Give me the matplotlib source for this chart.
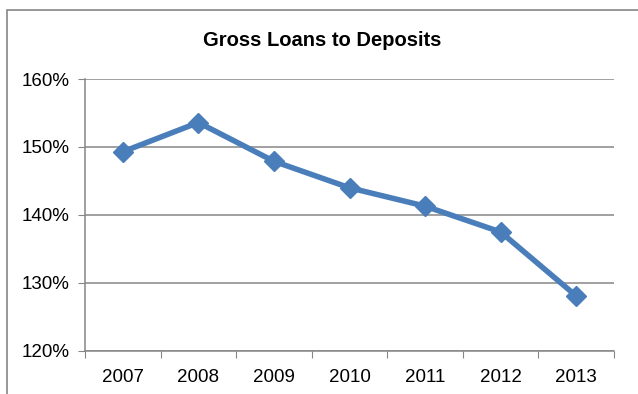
import matplotlib
matplotlib.use("Agg")
import matplotlib.pyplot as plt
from matplotlib.patches import Rectangle
import numpy as np

years = ["2007", "2008", "2009", "2010", "2011", "2012", "2013"]
ratio = [149.3, 153.6, 147.9, 144.0, 141.3, 137.5, 128.1]
y_ticks = [120, 130, 140, 150, 160]

plt.rcParams['font.family'] = ['Liberation Sans', 'DejaVu Sans']
grey = '#868686'
blue = '#4A7EBB'

fig = plt.figure(figsize=(6.38, 3.94), dpi=100)
ax = fig.add_axes([85 / 638, 1 - 351 / 394, (614 - 85) / 638, (351 - 79) / 394])

# chart border (runs off the right and bottom edges)
fig.patches.append(Rectangle((7 / 638, -0.1), 1.2, 1 - 10 / 394 + 0.1,
                             transform=fig.transFigure, fill=False,
                             edgecolor=grey, linewidth=1.2))

x = np.arange(len(years))
ax.plot(x, ratio, color=blue, linewidth=4, marker='D', markersize=10.5,
        markerfacecolor=blue, markeredgecolor=blue, zorder=3)

ax.set_xlim(-0.5, len(years) - 0.5)
ax.set_ylim(120, 160)
ax.set_yticks(y_ticks)
ax.set_yticklabels([f"{v}%" for v in y_ticks], fontsize=13.5)
ax.yaxis.grid(True, color=grey, linewidth=1.1)
ax.set_axisbelow(True)

ax.set_xticks(np.arange(len(years) + 1) - 0.5)
ax.set_xticklabels([])
ax.set_xticks(x, minor=True)
ax.set_xticklabels(years, minor=True, fontsize=13.5)
ax.tick_params(axis='x', which='major', length=5, color=grey, direction='out')
ax.tick_params(axis='x', which='minor', length=0, pad=13)
ax.tick_params(axis='y', length=5, color=grey, pad=6)

for s in ['top', 'right']:
    ax.spines[s].set_visible(False)
for s in ['left', 'bottom']:
    ax.spines[s].set_color(grey)
    ax.spines[s].set_linewidth(1.1)

fig.text(0.505, 1 - 40 / 394, "Gross Loans to Deposits", ha='center', va='center',
         fontsize=14.5, fontweight='bold')

fig.savefig("out.png", dpi=100)
